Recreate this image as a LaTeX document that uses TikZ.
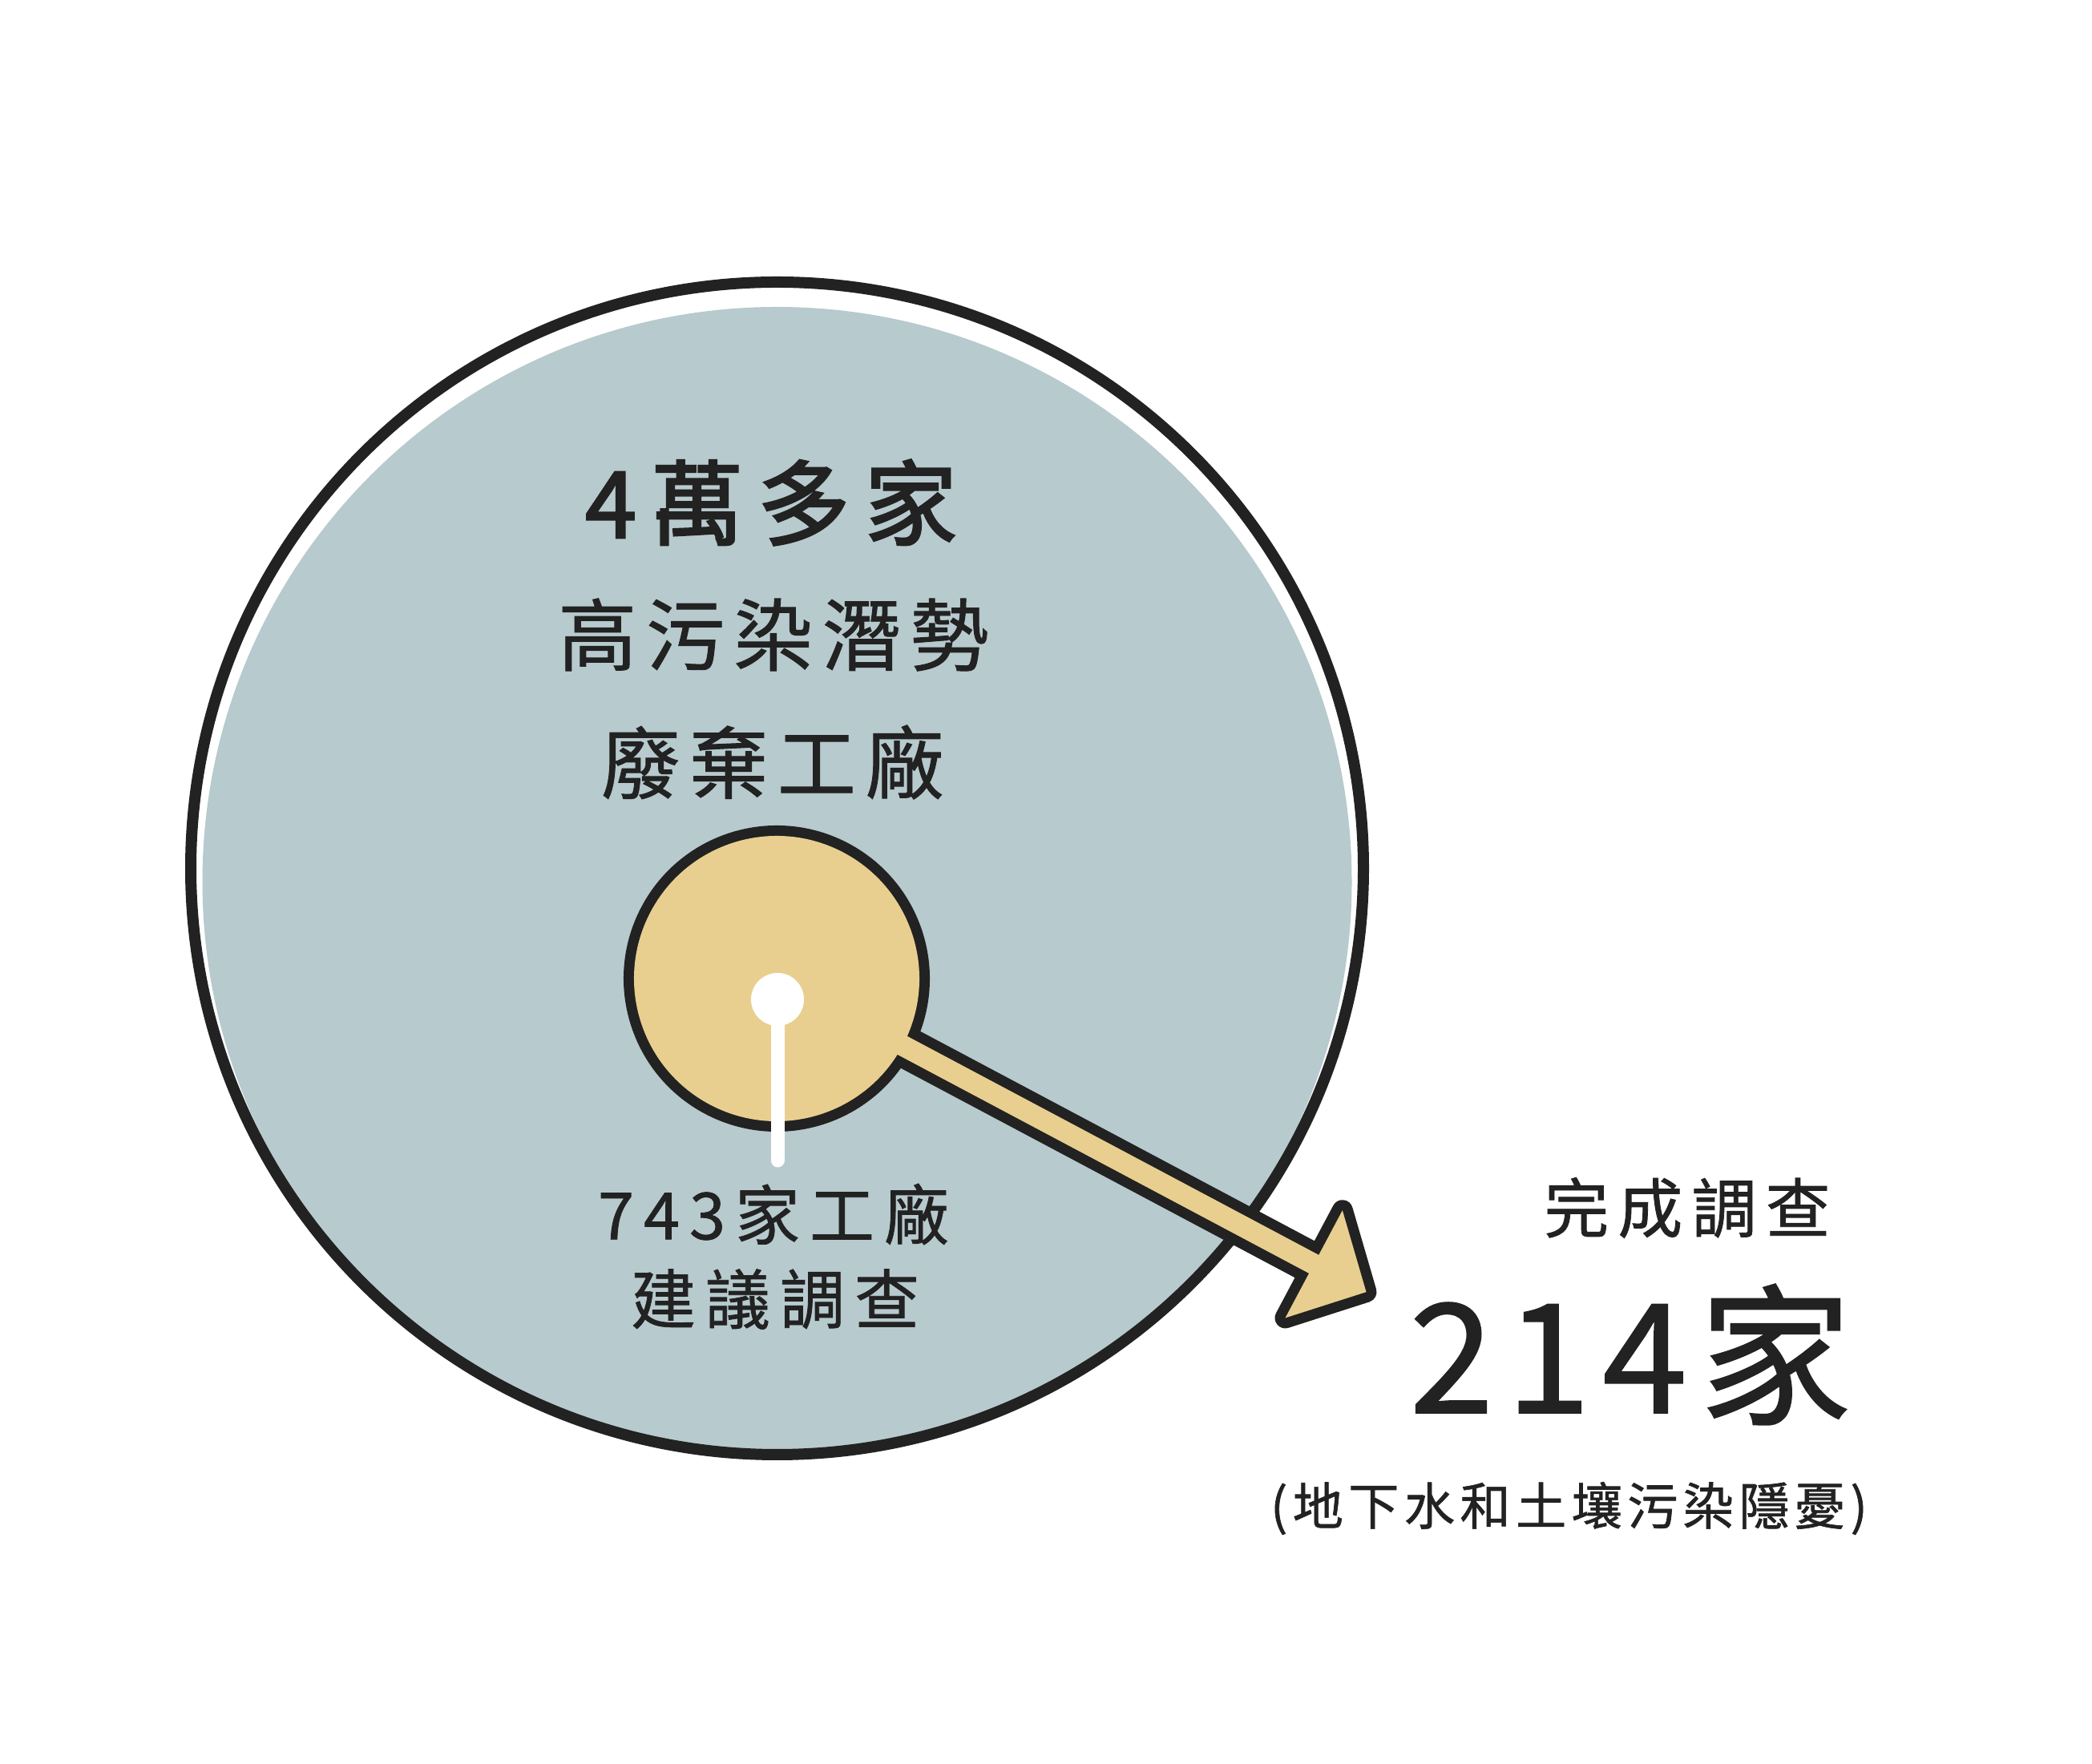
\documentclass[tikz,border=0pt]{standalone}
\usepackage{fontspec}
\setmainfont{Noto Sans CJK TC}
\newfontfamily\cjk{Noto Sans CJK TC}[FakeBold=1]
\newfontfamily\cjkheavy{Noto Sans CJK TC}[FakeBold=2.5]
\definecolor{ink}{HTML}{222222}
\definecolor{mist}{HTML}{B7CACE}
\definecolor{sand}{HTML}{E8CF8F}
% small circle and its arrow, as two closed paths
\newcommand\hubpath{(0,0) circle (1.78)}
\newcommand\pointerpath{(0,0.13) -- (7.59,0.13) -- (7.59,0.76) -- (8.33,0) -- (7.59,-0.76) -- (7.59,-0.13) -- (0,-0.13) -- cycle}
\tikzset{
  txt/.style={inner sep=0pt, text=ink},
}

\begin{document}
\begin{tikzpicture}
  \useasboundingbox (0,0) rectangle (26.1,22);

  % big circle: the pale fill sits a little low inside its outline
  \fill[mist] (9.695,11.00) circle (7.17);
  \draw[ink, line width=0.14cm] (9.695,11.165) circle (7.315);

  % small circle and arrow: outline drawn wide, then filled over
  \coordinate (hub) at (9.69,9.79);
  \begin{scope}[shift={(hub)}, rotate=-28]
    \draw[ink, line width=0.26cm, line join=round] \hubpath \pointerpath;
    \fill[sand] \hubpath;
    \fill[sand] \pointerpath;
  \end{scope}

  % white pin
  \coordinate (dot) at (9.70,9.53);
  \coordinate (stem) at (9.70,7.52);
  \draw[white, line width=0.17cm, line cap=round] (dot) -- (stem);
  \fill[white] (dot) circle (0.33);

  % texts inside the big circle
  \node[txt, font={\cjkheavy\fontsize{32.7}{36}\selectfont\addfontfeatures{LetterSpace=16}}]
    (total) at (9.62,15.73) {4萬多家};
  \node[txt, font={\cjk\fontsize{27.9}{32}\selectfont\addfontfeatures{LetterSpace=12}}]
    (risk) at (9.65,14.08) {高污染潛勢};
  \node[txt, font={\cjk\fontsize{27.9}{32}\selectfont\addfontfeatures{LetterSpace=12}}]
    (waste) at (9.64,12.49) {廢棄工廠};
  \node[txt, font={\cjk\fontsize{23}{26}\selectfont\addfontfeatures{LetterSpace=15}}]
    (count) at (9.65,6.85) {743家工廠};
  \node[txt, font={\cjk\fontsize{23}{26}\selectfont\addfontfeatures{LetterSpace=15}}]
    (advice) at (9.67,5.79) {建議調查};

  % texts at the arrow tip
  \node[txt, font={\cjk\fontsize{23}{26}\selectfont\addfontfeatures{LetterSpace=14}}]
    (done) at (21.05,6.93) {完成調查};
  \node[txt, font={\cjk\fontsize{54}{60}\selectfont\addfontfeatures{LetterSpace=8}}]
    (result) at (20.34,5.10) {214家};
  \node[txt, font={\cjk\fontsize{18}{21}\selectfont\addfontfeatures{LetterSpace=10}}]
    (note) at (19.575,3.18) {(地下水和土壤污染隱憂)};
\end{tikzpicture}
\end{document}
